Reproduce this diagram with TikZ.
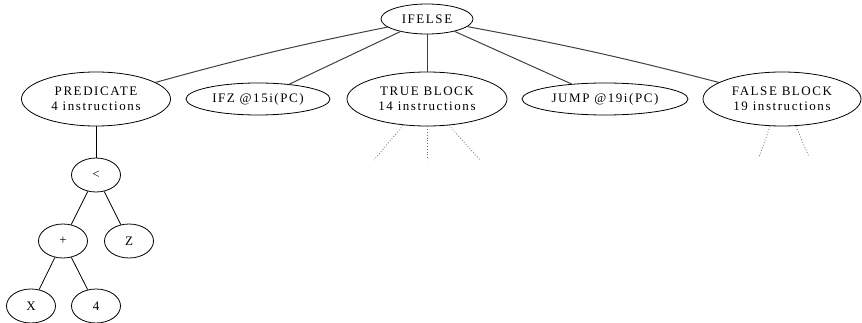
\documentclass[tikz,border=0pt]{standalone}
\usepackage{fontspec}
\setmainfont[LetterSpace=12]{Liberation Serif}
\usetikzlibrary{shapes.geometric}
\begin{document}
\begin{tikzpicture}[x=1pt,y=-1pt,
  nd/.style={draw=black, line width=0.8pt, ellipse, inner sep=0pt, align=center,
    font=\fontsize{13}{15}\selectfont},
  edge/.style={draw=black!75, line width=1pt},
  leafedge/.style={draw=black, line width=0.8pt},
  hidden/.style={draw=black!60, line width=0.8pt, dotted}]
\useasboundingbox (0,0) rectangle (862,323);

% top level
\node[nd, minimum width=92pt, minimum height=30pt] (ifelse) at (427,19) {IFELSE};
\node[nd, minimum width=149pt, minimum height=54pt] (pred) at (96,99) {PREDICATE\\4 instructions};
\node[nd, minimum width=144pt, minimum height=32pt] (ifz) at (258,99) {IFZ @15i(PC)};
\node[nd, minimum width=160pt, minimum height=54pt] (tblk) at (427,99) {TRUE BLOCK\\14 instructions};
\node[nd, minimum width=166pt, minimum height=32pt] (jump) at (605,99) {JUMP @19i(PC)};
\node[nd, minimum width=158pt, minimum height=54pt] (fblk) at (782,99) {FALSE BLOCK\\19 instructions};

% predicate expression
\node[nd, minimum width=49pt, minimum height=34pt] (lt) at (96,175) {<};
\node[nd, minimum width=49pt, minimum height=34pt] (plus) at (63,241) {+};
\node[nd, minimum width=49pt, minimum height=34pt] (z) at (129,241) {Z};
\node[nd, minimum width=49pt, minimum height=34pt] (x) at (31,306) {X};
\node[nd, minimum width=49pt, minimum height=34pt] (four) at (96,306) {4};

% elided subtrees
\coordinate (t1) at (374,160);
\coordinate (t2) at (427,160);
\coordinate (t3) at (480,160);
\coordinate (f1) at (759,157);
\coordinate (f2) at (809,157);

\draw[edge] (ifelse) to[bend right=2] (pred);
\draw[edge] (ifelse) -- (ifz);
\draw[edge] (ifelse) -- (tblk);
\draw[edge] (ifelse) -- (jump);
\draw[edge] (ifelse) to[bend left=2] (fblk);

\draw[leafedge] (pred) -- (lt);
\draw[leafedge] (lt) -- (plus);
\draw[leafedge] (lt) -- (z);
\draw[leafedge] (plus) -- (x);
\draw[leafedge] (plus) -- (four);

\draw[hidden] (tblk.south) ++(-24,-1) -- (t1);
\draw[hidden] (tblk.south) -- (t2);
\draw[hidden] (tblk.south) ++(22,-1) -- (t3);
\draw[hidden] (fblk.south) ++(-12,0) -- (f1);
\draw[hidden] (fblk.south) ++(14,0) -- (f2);
\end{tikzpicture}
\end{document}
